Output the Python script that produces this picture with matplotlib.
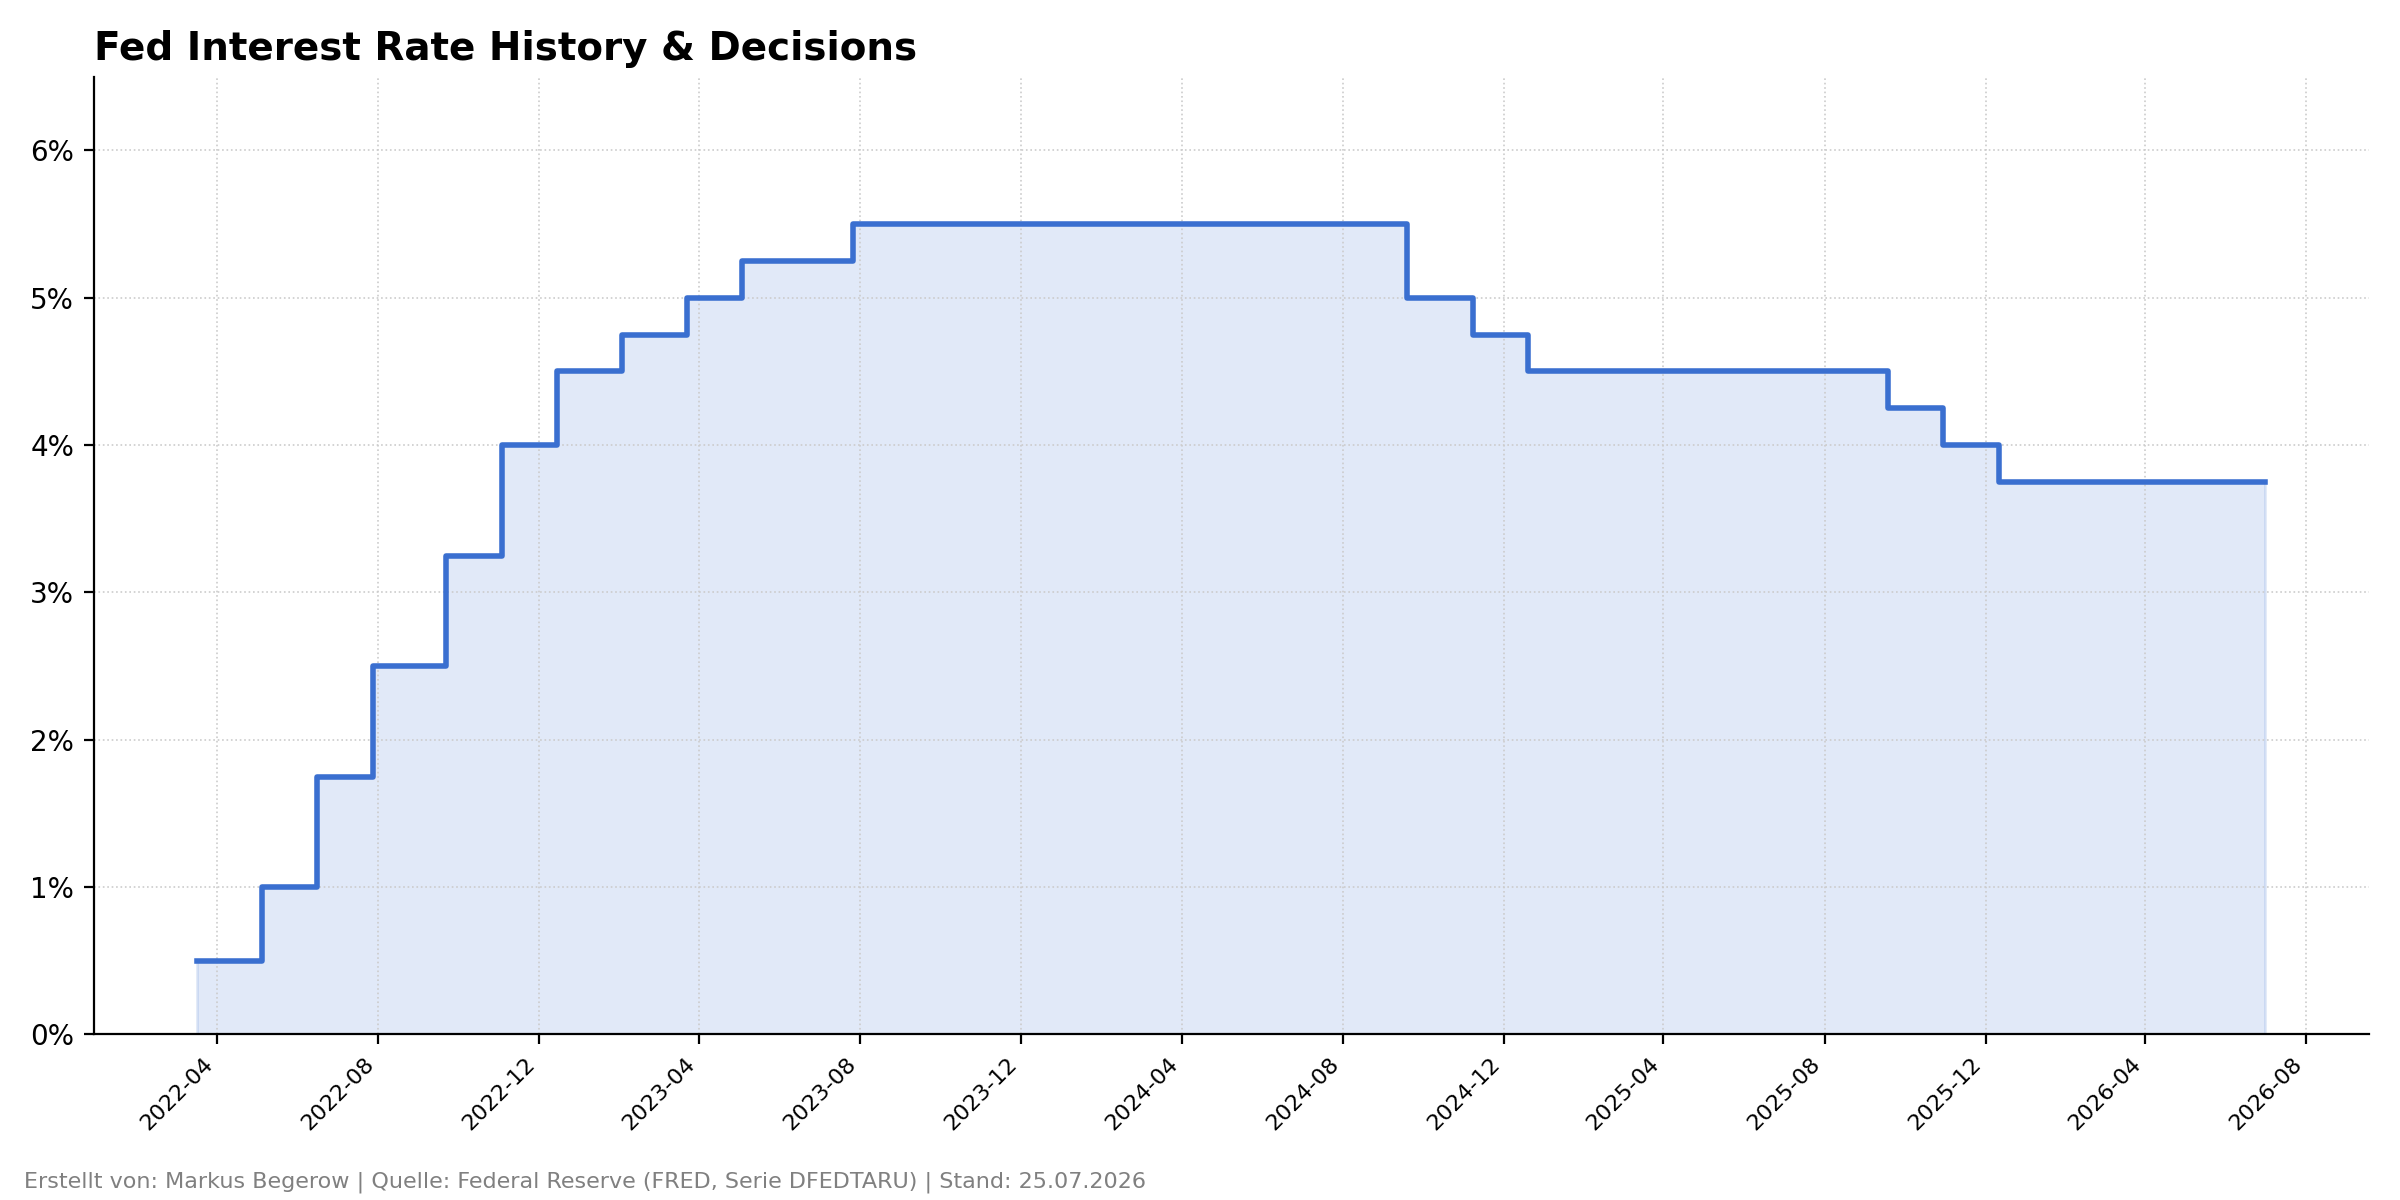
import matplotlib
matplotlib.use("Agg")
import matplotlib.pyplot as plt
import matplotlib.dates as mdates
from matplotlib.ticker import FuncFormatter
import pandas as pd

# Data: effective dates of rate changes and upper bound target rate (%)
dates = ["2022-03-17", "2022-05-05", "2022-06-16", "2022-07-28", "2022-09-22",
         "2022-11-03", "2022-12-15", "2023-02-02", "2023-03-23", "2023-05-04",
         "2023-07-27", "2024-09-19", "2024-11-08", "2024-12-19", "2025-09-18",
         "2025-10-30", "2025-12-11", "2026-07-01"]
rates = [0.50, 1.00, 1.75, 2.50, 3.25, 4.00, 4.50, 4.75, 5.00, 5.25,
         5.50, 5.00, 4.75, 4.50, 4.25, 4.00, 3.75, 3.75]

title = "Fed Interest Rate History & Decisions"
footer = "Erstellt von: Markus Begerow | Quelle: Federal Reserve (FRED, Serie DFEDTARU) | Stand: 25.07.2026"

x = pd.to_datetime(dates)
color = "#3A6FD0"

fig, ax = plt.subplots(figsize=(12, 6), dpi=200)
fig.subplots_adjust(left=0.039, right=0.987, top=0.936, bottom=0.138)

ax.step(x, rates, where="post", color=color, linewidth=2)
ax.fill_between(x, rates, step="post", color=color, alpha=0.15)

ax.set_ylim(0, 6.5)
ax.yaxis.set_major_formatter(FuncFormatter(lambda v, p: f"{v:.0f}%"))
ax.xaxis.set_major_locator(mdates.MonthLocator(bymonth=[4, 8, 12]))
ax.xaxis.set_major_formatter(mdates.DateFormatter("%Y-%m"))
plt.setp(ax.get_xticklabels(), rotation=45, ha="right", fontsize=8)
ax.tick_params(axis="y", labelsize=10)

ax.grid(True, linestyle=":", color="#cccccc", linewidth=0.6)
ax.spines["top"].set_visible(False)
ax.spines["right"].set_visible(False)

ax.set_title(title, loc="left", fontsize=14, fontweight="bold")
fig.text(0.01, 0.006, footer, fontsize=8, color="gray", ha="left", va="bottom")

fig.savefig("out.png", dpi=200)
